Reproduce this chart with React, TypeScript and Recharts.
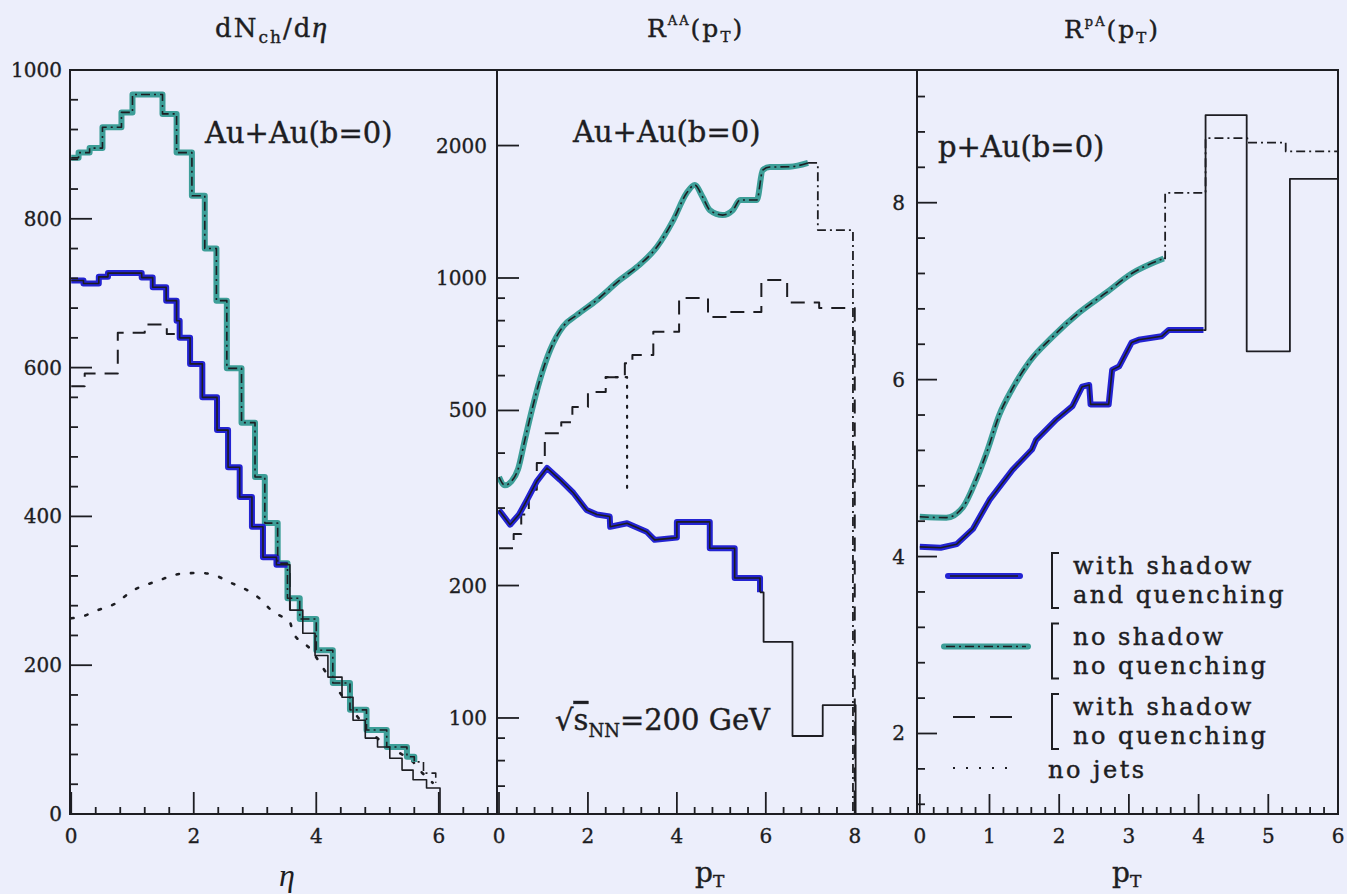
import React from 'react';
import { LineChart, Line, XAxis, YAxis, ReferenceArea, Legend } from 'recharts';

// ---------- style constants ----------
const BG = '#eceefb';
const INK = '#1d1d22';
const TEAL = '#3d9e98';
const BLUE = '#2323d2';
const FONT = '"DejaVu Serif", "Liberation Serif", serif';
const ITALIC = '"Liberation Serif", "DejaVu Serif", serif';

// ---------- Panel 1 : dNch/deta vs eta ----------
const p1XTicks = [0, 0.4, 0.8, 1.2, 1.6, 2, 2.4, 2.8, 3.2, 3.6, 4, 4.4, 4.8, 5.2, 5.6, 6, 6.4, 6.8];
const p1XMajor = [0, 2, 4, 6];
const p1YTicks = [0, 40, 80, 120, 160, 200, 240, 280, 320, 360, 400, 440, 480, 520, 560, 600, 640, 680, 720, 760, 800, 840, 880, 920, 960, 1000];
const p1YMajor = [0, 200, 400, 600, 800, 1000];

const teal1X = [0, 0.12, 0.3, 0.51, 0.82, 1.0, 1.49, 1.72, 1.97, 2.18, 2.37, 2.54, 2.78, 3.0, 3.16, 3.37, 3.53, 3.73, 4.0, 4.27, 4.55, 4.82, 5.15, 5.48, 5.6];
const teal1Y = [882, 889, 895, 923, 943, 967, 941, 889, 831, 760, 690, 599, 526, 453, 391, 337, 290, 262, 220, 176, 140, 113, 90, 77, 70];
const dashDotTail1X = [5.75, 5.95];
const dashDotTail1Y = [55, 42];

const blue1X = [0, 0.2, 0.45, 0.6, 1.15, 1.33, 1.55, 1.72, 1.77, 1.94, 2.14, 2.38, 2.56, 2.75, 2.95, 3.13, 3.35, 3.53];
const blue1Y = [717, 713, 722, 727, 721, 708, 690, 663, 640, 605, 560, 516, 466, 426, 386, 345, 335, 335];
const solidTail1X = [3.57, 3.78, 3.98, 4.19, 4.42, 4.6, 4.8, 5.0, 5.2, 5.4, 5.58, 5.8, 6.02];
const solidTail1Y = [274, 243, 213, 184, 157, 126, 102, 90, 75, 59, 46, 35, 0];

const dashed1X = [0, 0.22, 0.76, 1.2, 1.56, 1.77, 1.94, 2.14, 2.38, 2.56, 2.75, 2.95, 3.13, 3.35, 3.57];
const dashed1Y = [575, 592, 647, 658, 645, 640, 605, 560, 516, 466, 426, 386, 345, 335, 274];

const dotted1X = [0, 0.2, 0.4, 0.7, 1.0, 1.4, 1.8, 2.1, 2.3, 2.6, 2.95, 3.1, 3.25, 3.4, 3.57, 3.62, 3.9, 4.2, 4.5, 4.8, 5.1, 5.4, 5.58, 5.7, 5.9];
const dotted1Y = [263, 266, 273, 282, 300, 313, 323, 324, 322, 311, 297, 288, 275, 267, 258, 244, 222, 185, 150, 118, 95, 80, 70, 58, 42];

// ---------- Panel 2 : R^AA(pT), log axis ----------
const p2XTicks = [0, 0.4, 0.8, 1.2, 1.6, 2, 2.4, 2.8, 3.2, 3.6, 4, 4.4, 4.8, 5.2, 5.6, 6, 6.4, 6.8, 7.2, 7.6, 8, 8.4, 8.8, 9.2];
const p2XMajor = [0, 2, 4, 6, 8];
const p2YTicks = [70, 80, 90, 100, 200, 300, 400, 500, 600, 700, 800, 900, 1000, 2000];
const p2YMajor = [100, 200, 500, 1000, 2000];
const P2_MIN = 60.5;
const P2_MAX = 2970;

const teal2X = [0, 0.13, 0.28, 0.43, 0.58, 0.74, 0.92, 1.15, 1.45, 1.75, 2.2, 2.72, 3.1, 3.55, 3.92, 4.22, 4.4, 4.58, 4.74, 5.03, 5.26, 5.42, 5.8, 5.93, 6.09, 6.54, 6.95];
const teal2Y = [353, 338, 345, 368, 428, 501, 587, 686, 778, 824, 891, 990, 1059, 1176, 1354, 1560, 1627, 1527, 1427, 1390, 1427, 1504, 1504, 1759, 1787, 1790, 1826];
const dashDotTail2X = [6.95, 7.17, 7.96];
const dashDotTail2Y = [1826, 1285, P2_MIN];

const blue2X = [0, 0.25, 0.45, 0.63, 0.85, 1.08, 1.37, 1.67, 1.97, 2.2, 2.49, 2.5, 2.88, 3.32, 3.5, 4.0, 4.0, 4.74, 4.74, 5.3, 5.3, 5.87, 5.87];
const blue2Y = [297, 275, 290, 313, 345, 370, 348, 325, 297, 290, 287, 272, 277, 265, 254, 257, 279, 279, 243, 243, 208, 208, 193];
const solidTail2X = [5.87, 5.95, 6.6, 7.28, 8.02];
const solidTail2Y = [193, 149, 91, 107, P2_MIN];

const dashed2X = [0, 0.33, 0.5, 0.67, 0.85, 1.03, 1.4, 1.65, 2.0, 2.4, 2.83, 3.0, 3.47, 4.05, 4.7, 5.2, 5.9, 6.48, 7.2, 8.0];
const dashed2Y = [243, 262, 290, 330, 380, 444, 470, 509, 551, 595, 640, 668, 755, 901, 815, 837, 990, 880, 855, P2_MIN];

const dotted2X = [2.4, 2.88];
const dotted2Y = [595, 320];

// ---------- Panel 3 : R^pA(pT) ----------
const p3XTicks = [0, 0.2, 0.4, 0.6, 0.8, 1, 1.2, 1.4, 1.6, 1.8, 2, 2.2, 2.4, 2.6, 2.8, 3, 3.2, 3.4, 3.6, 3.8, 4, 4.2, 4.4, 4.6, 4.8, 5, 5.2, 5.4, 5.6, 5.8, 6];
const p3XMajor = [0, 1, 2, 3, 4, 5, 6];
const p3YTicks = [1.2, 1.6, 2, 2.4, 2.8, 3.2, 3.6, 4, 4.4, 4.8, 5.2, 5.6, 6, 6.4, 6.8, 7.2, 7.6, 8, 8.4, 8.8, 9.2];
const p3YMajor = [2, 4, 6, 8];

const teal3X = [0, 0.38, 0.62, 0.81, 0.97, 1.14, 1.33, 1.57, 1.9, 2.29, 2.67, 3.04, 3.5];
const teal3Y = [4.45, 4.44, 4.56, 4.87, 5.2, 5.6, 5.9, 6.2, 6.48, 6.76, 6.98, 7.2, 7.37];
const dashDotTail3X = [3.5, 3.52, 4.1, 4.7, 5.25, 6.0];
const dashDotTail3Y = [7.37, 8.11, 8.73, 8.68, 8.58, 8.58];

const blue3X = [0, 0.3, 0.53, 0.76, 1.0, 1.33, 1.61, 1.67, 1.96, 2.19, 2.33, 2.43, 2.45, 2.71, 2.76, 2.86, 3.04, 3.14, 3.47, 3.57, 4.07];
const blue3Y = [4.11, 4.1, 4.14, 4.31, 4.64, 4.98, 5.21, 5.32, 5.55, 5.7, 5.92, 5.94, 5.72, 5.72, 6.11, 6.15, 6.42, 6.45, 6.49, 6.56, 6.56];
const solidTail3X = [4.07, 4.1, 4.69, 5.31, 6.0];
const solidTail3Y = [6.56, 8.99, 6.32, 8.27, 8.27];

// ---------- legend labels ----------
const legendLabels = [
  ['with shadow', 'and quenching'],
  ['no shadow', 'no quenching'],
  ['with shadow', 'no quenching'],
];
const legendLast = 'no jets';

// ---------- helpers ----------
type Pt = { x: number; y: number };
const pts = (xs: number[], ys: number[]): Pt[] => xs.map((x, i) => ({ x, y: ys[i] }));
const near = (arr: number[], v: number) => arr.some((m) => Math.abs(m - v) < 1e-6);

const tickText = { fontFamily: FONT, fontSize: 20, fill: INK, stroke: INK, strokeWidth: 0.35 };

const makeXTick = (majors: number[], majorLen: number, minorLen: number) => (props: any) => {
  const { x, y, payload } = props;
  const v = payload.value;
  const major = near(majors, v);
  return (
    <g>
      <line x1={x} x2={x} y1={y} y2={y - (major ? majorLen : minorLen)} stroke={INK} strokeWidth={1.8} />
      {major ? (
        <text x={x} y={y + 29} textAnchor="middle" {...tickText}>
          {String(v)}
        </text>
      ) : null}
    </g>
  );
};

const makeYTick = (majors: number[], majorLen: number, minorLen: number, gap: number) => (props: any) => {
  const { x, y, payload } = props;
  const v = payload.value;
  const major = near(majors, v);
  return (
    <g>
      <line x1={x} x2={x + (major ? majorLen : minorLen)} y1={y} y2={y} stroke={INK} strokeWidth={1.8} />
      {major ? (
        <text x={x - gap} y={y + 7} textAnchor="end" {...tickText}>
          {String(v)}
        </text>
      ) : null}
    </g>
  );
};

const series = (
  key: string,
  data: Pt[],
  type: any,
  stroke: string,
  width: number,
  dash?: string,
  cap: any = 'butt'
) => (
  <Line
    key={key}
    data={data}
    dataKey="y"
    type={type}
    stroke={stroke}
    strokeWidth={width}
    strokeDasharray={dash}
    strokeLinecap={cap}
    strokeLinejoin="round"
    dot={false}
    activeDot={false}
    isAnimationActive={false}
    legendType="none"
  />
);

const axisLine = { stroke: INK, strokeWidth: 2 };
const DASHDOT = '9 4 2 4';
const DASHED = '14 9';
const DOTTED = '2.4 12';

const legendText = { fontFamily: FONT, fontSize: 24, letterSpacing: 2.5, fill: INK, stroke: INK, strokeWidth: 0.45 };

const LegendBox = () => (
  <svg width={400} height={250} style={{ display: 'block', overflow: 'visible' }}>
    {legendLabels.map((lines, i) => {
      const top = 8 + i * 70.5;
      const sy = top + 23;
      return (
        <g key={i}>
          {i === 0 && <line x1={8} x2={80} y1={sy} y2={sy} stroke={BLUE} strokeWidth={6} strokeLinecap="round" />}
          {i === 0 && <line x1={10} x2={78} y1={sy} y2={sy} stroke={INK} strokeWidth={1.4} />}
          {i === 1 && <line x1={4} x2={88} y1={sy} y2={sy} stroke={TEAL} strokeWidth={6} strokeLinecap="round" />}
          {i === 1 && <line x1={6} x2={86} y1={sy} y2={sy} stroke={INK} strokeWidth={1.4} strokeDasharray={DASHDOT} />}
          {i === 2 && <line x1={13} x2={72} y1={sy} y2={sy} stroke={INK} strokeWidth={2} strokeDasharray="22 15" />}
          <path d={`M 119 ${top} H 112 V ${top + 55} H 119`} fill="none" stroke={INK} strokeWidth={2} />
          <text {...legendText}>
            <tspan x={133} y={top + 21}>{lines[0]}</tspan>
            <tspan x={133} y={top + 50}>{lines[1]}</tspan>
          </text>
        </g>
      );
    })}
    <line x1={13} x2={77} y1={223} y2={223} stroke={INK} strokeWidth={2.2} strokeDasharray="2 11" />
    <text x={108} y={233} {...legendText}>
      {legendLast}
    </text>
  </svg>
);

const labelStyle = { fontFamily: FONT, fill: INK, stroke: INK, strokeWidth: 0.4 } as const;

export default function App() {
  const H = 894;
  return (
    <div style={{ position: 'absolute', left: 0, top: 0, width: 1347, height: H, background: BG, overflow: 'hidden' }}>
      {/* Panel 1 */}
      <div style={{ position: 'absolute', left: 0, top: 0 }}>
        <LineChart width={520} height={H} margin={{ top: 70, right: 23, bottom: 0, left: 0 }}>
          <XAxis dataKey="x" type="number" domain={[-0.02, 6.95]} allowDataOverflow ticks={p1XTicks} interval={0}
            tick={makeXTick(p1XMajor, 22, 7)} tickLine={false} tickSize={0} tickMargin={0} axisLine={axisLine} height={80} />
          <YAxis type="number" domain={[0, 1000]} allowDataOverflow ticks={p1YTicks} interval={0}
            tick={makeYTick(p1YMajor, 22, 8, 8)} tickLine={false} tickSize={0} tickMargin={0} axisLine={axisLine} width={70} />
          <ReferenceArea x1={-0.02} x2={6.95} y1={0} y2={1000} fill="none" stroke={INK} strokeWidth={2} ifOverflow="visible" />
          {series('dot1', pts(dotted1X, dotted1Y), 'monotone', INK, 2.6, DOTTED, 'round')}
          {series('dash1', pts(dashed1X, dashed1Y), 'stepAfter', INK, 2, DASHED)}
          {series('teal1', pts(teal1X, teal1Y), 'stepAfter', TEAL, 6)}
          {series('blue1', pts(blue1X, blue1Y), 'stepAfter', BLUE, 6)}
          {series('solid1', pts([...blue1X, ...solidTail1X], [...blue1Y, ...solidTail1Y]), 'stepAfter', INK, 1.6)}
          {series('dd1', pts([...teal1X, ...dashDotTail1X], [...teal1Y, ...dashDotTail1Y]), 'stepAfter', INK, 1.6, DASHDOT)}
        </LineChart>
      </div>

      {/* Panel 2 */}
      <div style={{ position: 'absolute', left: 420, top: 0 }}>
        <LineChart width={520} height={H} margin={{ top: 70, right: 23, bottom: 0, left: 0 }}>
          <XAxis dataKey="x" type="number" domain={[-0.045, 9.4]} allowDataOverflow ticks={p2XTicks} interval={0}
            tick={makeXTick(p2XMajor, 22, 7)} tickLine={false} tickSize={0} tickMargin={0} axisLine={axisLine} height={80} />
          <YAxis type="number" scale="log" domain={[P2_MIN, P2_MAX]} allowDataOverflow ticks={p2YTicks} interval={0}
            tick={makeYTick(p2YMajor, 22, 8, 10)} tickLine={false} tickSize={0} tickMargin={0} axisLine={axisLine} width={77} />
          <ReferenceArea x1={-0.045} x2={9.4} y1={P2_MIN} y2={P2_MAX} fill="none" stroke={INK} strokeWidth={2} ifOverflow="visible" />
          {series('dot2', pts(dotted2X, dotted2Y), 'stepAfter', INK, 2.2, '2 8', 'round')}
          {series('dash2', pts(dashed2X, dashed2Y), 'stepAfter', INK, 2, DASHED)}
          {series('teal2', pts(teal2X, teal2Y), 'monotone', TEAL, 6)}
          {series('blue2', pts(blue2X, blue2Y), 'linear', BLUE, 6)}
          {series('solid2a', pts(blue2X, blue2Y), 'linear', INK, 1.6)}
          {series('solid2b', pts(solidTail2X, solidTail2Y), 'stepAfter', INK, 1.8)}
          {series('dd2a', pts(teal2X, teal2Y), 'monotone', INK, 1.6, DASHDOT)}
          {series('dd2b', pts(dashDotTail2X, dashDotTail2Y), 'stepAfter', INK, 1.8, DASHDOT)}
        </LineChart>
      </div>

      {/* Panel 3 */}
      <div style={{ position: 'absolute', left: 840, top: 0 }}>
        <LineChart width={507} height={H} margin={{ top: 70, right: 9, bottom: 0, left: 0 }}>
          <XAxis dataKey="x" type="number" domain={[-0.04, 6]} allowDataOverflow ticks={p3XTicks} interval={0}
            tick={makeXTick(p3XMajor, 20, 7)} tickLine={false} tickSize={0} tickMargin={0} axisLine={axisLine} height={80} />
          <YAxis type="number" domain={[1.09, 9.5]} allowDataOverflow ticks={p3YTicks} interval={0}
            tick={makeYTick(p3YMajor, 20, 8, 12)} tickLine={false} tickSize={0} tickMargin={0} axisLine={axisLine} width={77} />
          <ReferenceArea x1={-0.04} x2={6} y1={1.09} y2={9.5} fill="none" stroke={INK} strokeWidth={2} ifOverflow="visible" />
          {series('teal3', pts(teal3X, teal3Y), 'monotone', TEAL, 6)}
          {series('blue3', pts(blue3X, blue3Y), 'linear', BLUE, 6)}
          {series('solid3a', pts(blue3X, blue3Y), 'linear', INK, 1.6)}
          {series('solid3b', pts(solidTail3X, solidTail3Y), 'stepAfter', INK, 1.8)}
          {series('dd3a', pts(teal3X, teal3Y), 'monotone', INK, 1.6, DASHDOT)}
          {series('dd3b', pts(dashDotTail3X, dashDotTail3Y), 'stepAfter', INK, 1.8, DASHDOT)}
          <Legend layout="horizontal" verticalAlign="middle" align="center" content={() => <LegendBox />}
            wrapperStyle={{ position: 'absolute', left: 100, top: 545, width: 400, height: 250 }} />
        </LineChart>
      </div>

      {/* Titles and annotations */}
      <svg width={1347} height={H} style={{ position: 'absolute', left: 0, top: 0, pointerEvents: 'none' }}>
        <text x={215} y={37} fontSize={26} letterSpacing={2} {...labelStyle}>
          dN<tspan fontSize={17} dy={6}>ch</tspan>
          <tspan dy={-6}>/d</tspan>
          <tspan fontFamily={ITALIC} fontStyle="italic" fontSize={30}>η</tspan>
        </text>
        <text x={647} y={37} fontSize={25} letterSpacing={2} {...labelStyle}>
          R<tspan fontSize={13} dy={-12}>AA</tspan>
          <tspan dy={12}>(p</tspan>
          <tspan fontSize={15} dy={5}>T</tspan>
          <tspan dy={-5}>)</tspan>
        </text>
        <text x={1064} y={38} fontSize={25} letterSpacing={2} {...labelStyle}>
          R<tspan fontSize={13} dy={-12}>pA</tspan>
          <tspan dy={12}>(p</tspan>
          <tspan fontSize={15} dy={5}>T</tspan>
          <tspan dy={-5}>)</tspan>
        </text>

        <text x={205} y={143} fontSize={29} {...labelStyle}>Au+Au(b=0)</text>
        <text x={573} y={142} fontSize={29} {...labelStyle}>Au+Au(b=0)</text>
        <text x={938} y={157} fontSize={29} {...labelStyle}>p+Au(b=0)</text>
        <text x={555} y={730} fontSize={29} {...labelStyle}>
          √<tspan textDecoration="overline">s</tspan>
          <tspan fontSize={18} dy={7}>NN</tspan>
          <tspan dy={-7}>=200 GeV</tspan>
        </text>

        <text x={279} y={886} fontFamily={ITALIC} fontStyle="italic" fontSize={32} fill={INK}>η</text>
        <text x={695} y={882} fontSize={28} {...labelStyle}>
          p<tspan fontSize={17} dy={5}>T</tspan>
        </text>
        <text x={1112} y={882} fontSize={28} {...labelStyle}>
          p<tspan fontSize={17} dy={5}>T</tspan>
        </text>
      </svg>
    </div>
  );
}
